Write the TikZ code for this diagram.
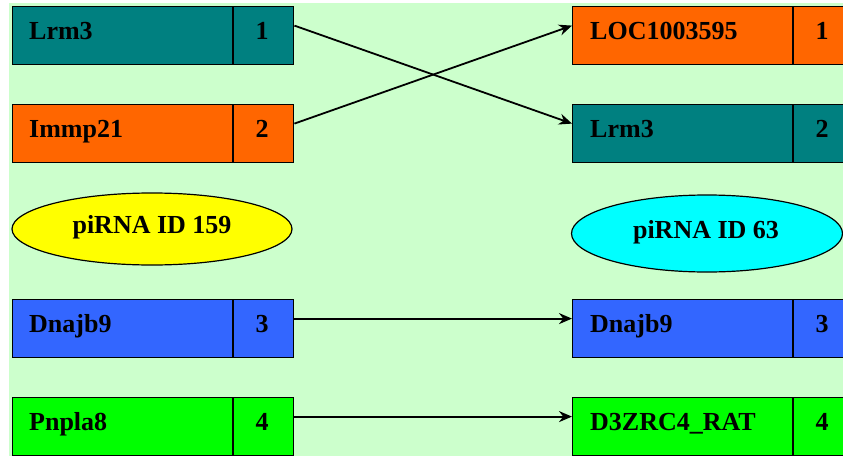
\documentclass[tikz,border=0pt]{standalone}
\usepackage{fontspec}
\setmainfont{Liberation Serif}
\usetikzlibrary{arrows.meta,shapes.geometric}
\definecolor{bgg}{HTML}{CCFFCC}
\definecolor{cteal}{HTML}{008080}
\definecolor{corange}{HTML}{FF6600}
\definecolor{cblue}{HTML}{3366FF}
\definecolor{cgreen}{HTML}{00FF00}
\definecolor{cyellow}{HTML}{FFFF00}
\definecolor{ccyan}{HTML}{00FFFF}
\tikzset{
  namebox/.style={draw=black, line width=1.2pt, minimum width=220pt, minimum height=58pt, inner sep=0pt, anchor=north west},
  numbox/.style={draw=black, line width=1.2pt, minimum width=60pt, minimum height=58pt, inner sep=0pt, anchor=north west},
  lab/.style={font=\bfseries\fontsize{26}{30}\selectfont, anchor=base west, inner sep=0pt},
  num/.style={font=\bfseries\fontsize{26}{30}\selectfont, anchor=base, inner sep=0pt},
  oval/.style={ellipse, draw=black, line width=1.2pt, inner sep=0pt},
  arr/.style={-{Stealth[length=13pt,width=11pt]}, line width=1.8pt},
}
\begin{document}
\begin{tikzpicture}[x=1pt,y=-1pt]
\useasboundingbox (0,0) rectangle (843,455);
\clip (0,0) rectangle (843,455);
\fill[white] (0,0) rectangle (843,455);
\fill[bgg] (9,3) rectangle (843,460);
% left column
\node[namebox, fill=cteal] (l1) at (12,6) {};
\node[numbox, fill=cteal] (l1n) at (l1.north east) {};
\node[namebox, fill=corange] (l2) at (12,104) {};
\node[numbox, fill=corange] (l2n) at (l2.north east) {};
\node[namebox, fill=cblue] (l3) at (12,299) {};
\node[numbox, fill=cblue] (l3n) at (l3.north east) {};
\node[namebox, fill=cgreen] (l4) at (12,397) {};
\node[numbox, fill=cgreen] (l4n) at (l4.north east) {};
\node[oval, fill=cyellow, minimum width=280pt, minimum height=72pt] (e1) at (152,229) {};
% right column
\node[namebox, fill=corange] (r1) at (572,6) {};
\node[numbox, fill=corange] (r1n) at (r1.north east) {};
\node[namebox, fill=cteal] (r2) at (572,104) {};
\node[numbox, fill=cteal] (r2n) at (r2.north east) {};
\node[namebox, fill=cblue] (r3) at (572,299) {};
\node[numbox, fill=cblue] (r3n) at (r3.north east) {};
\node[namebox, fill=cgreen] (r4) at (572,397) {};
\node[numbox, fill=cgreen] (r4n) at (r4.north east) {};
\node[oval, fill=ccyan, minimum width=271pt, minimum height=77pt] (e2) at (707,233.5) {};
% labels
\node[lab] (t1) at (29,39) {Lrm3};
\node[num] (t1n) at (262,39) {1};
\node[lab] (t2) at (29,137) {Immp21};
\node[num] (t2n) at (262,137) {2};
\node[lab] (t3) at (29,332) {Dnajb9};
\node[num] (t3n) at (262,332) {3};
\node[lab] (t4) at (29,430) {Pnpla8};
\node[num] (t4n) at (262,430) {4};
\node[num] (te1) at (152,233) {piRNA ID 159};
\node[lab] (s1) at (590,39) {LOC1003595};
\node[num] (s1n) at (822,39) {1};
\node[lab] (s2) at (590,137) {Lrm3};
\node[num] (s2n) at (822,137) {2};
\node[lab] (s3) at (590,332) {Dnajb9};
\node[num] (s3n) at (822,332) {3};
\node[lab] (s4) at (590,430) {D3ZRC4\_RAT};
\node[num] (s4n) at (822,430) {4};
\node[num] (te2) at (706,238) {piRNA ID 63};
% connectors
\draw[arr] ([yshift=10pt]l1n.east) -- ([yshift=10pt]r2.west);
\draw[arr] ([yshift=10pt]l2n.east) -- ([yshift=10pt]r1.west);
\draw[arr] ([yshift=10pt]l3n.east) -- ([yshift=10pt]r3.west);
\draw[arr] ([yshift=10pt]l4n.east) -- ([yshift=10pt]r4.west);
\end{tikzpicture}
\end{document}
